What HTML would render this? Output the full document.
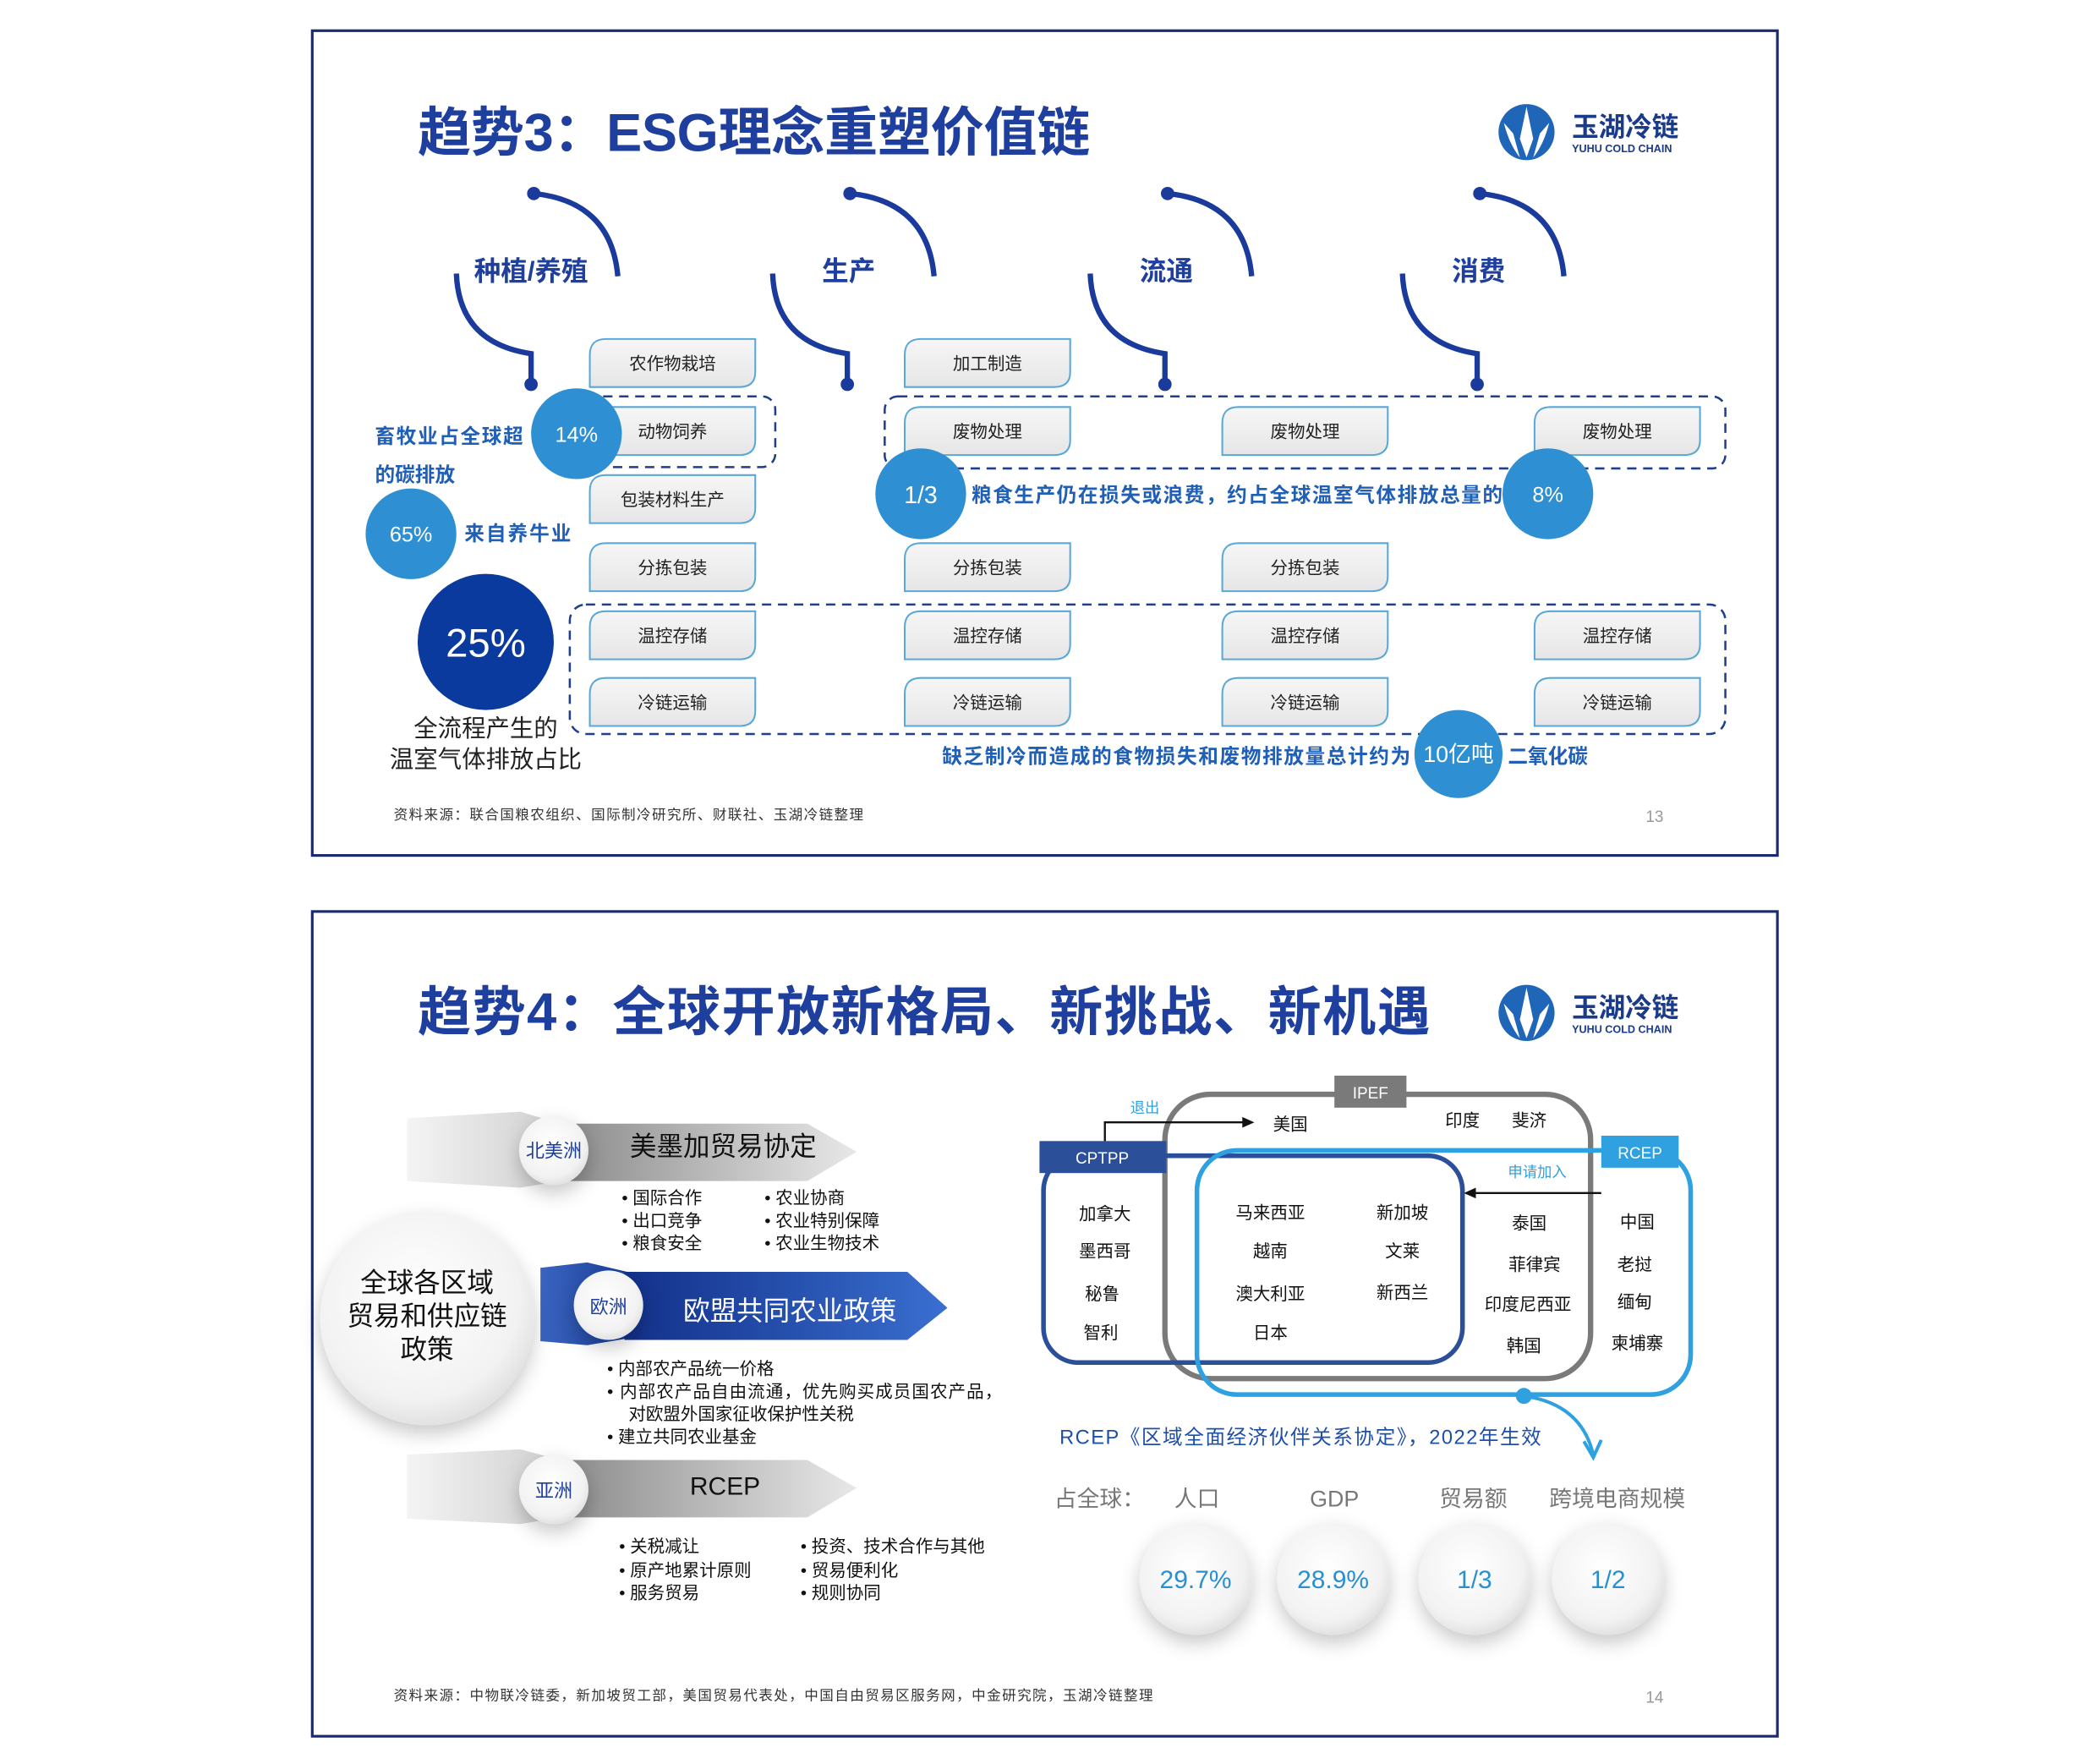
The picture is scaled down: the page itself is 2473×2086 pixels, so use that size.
<!DOCTYPE html>
<html><head><meta charset="utf-8"><style>
html,body{margin:0;padding:0;background:#fff;}
svg{display:block;}
text{font-family:"Liberation Sans","Noto Sans CJK SC",sans-serif;}
</style></head><body>
<svg width="2473" height="2086" viewBox="0 0 1567 1321.8" xmlns="http://www.w3.org/2000/svg">
<defs>
<linearGradient id="bx" x1="0" y1="0" x2="0" y2="1"><stop offset="0" stop-color="#f6f6f6"/><stop offset="1" stop-color="#e6e6e6"/></linearGradient>
<path id="box" d="M12,0 H124 V25 Q124,36 112,36 H0 V12 Q0,0 12,0 Z" fill="url(#bx)" stroke="#5aa8d8" stroke-width="1.3"/>
<linearGradient id="gb" x1="0" y1="0" x2="1" y2="0"><stop offset="0" stop-color="#8a8a8a"/><stop offset="1" stop-color="#e8e8e8"/></linearGradient>
<linearGradient id="gbk" x1="0" y1="0" x2="1" y2="0"><stop offset="0" stop-color="#f4f4f4"/><stop offset="1" stop-color="#cfcfcf"/></linearGradient>
<linearGradient id="bb" x1="0" y1="0" x2="1" y2="0"><stop offset="0" stop-color="#12308a"/><stop offset="1" stop-color="#3a6fd0"/></linearGradient>
<linearGradient id="bbk" x1="0" y1="0" x2="1" y2="0"><stop offset="0" stop-color="#3a64c0"/><stop offset="1" stop-color="#1a3f9a"/></linearGradient>
<radialGradient id="wc" cx="0.45" cy="0.4" r="0.6"><stop offset="0" stop-color="#ffffff"/><stop offset="0.8" stop-color="#f2f2f2"/><stop offset="1" stop-color="#e2e2e2"/></radialGradient>
<filter id="sh" x="-40%" y="-40%" width="180%" height="180%"><feDropShadow dx="0" dy="6" stdDeviation="7" flood-color="#000" flood-opacity="0.22"/></filter>
<g id="logo">
<circle cx="22" cy="21" r="21" fill="#1f66b8"/>
<path d="M22,2 L17,26 L22,40 L27,26 Z" fill="#fff"/>
<path d="M5,14 Q9,30 17,40 L12,22 Z" fill="#fff"/>
<path d="M39,14 Q35,30 27,40 L32,22 Z" fill="#fff"/>
<text x="56" y="24" font-size="20" font-weight="bold" fill="#1a3a8a">玉湖冷链</text>
<text x="56" y="36" font-size="8" font-weight="bold" fill="#1a3a8a">YUHU COLD CHAIN</text>
</g>
<g id="stage">
<path d="M0,0 Q58,6 63,62" fill="none" stroke="#1a3a9c" stroke-width="4"/>
<circle cx="0" cy="0" r="5" fill="#1a3a9c"/>
<path d="M-58,60 Q-56,112 -2,120 V143" fill="none" stroke="#1a3a9c" stroke-width="4"/>
<circle cx="-2" cy="143" r="5" fill="#1a3a9c"/>
</g>
</defs>

<!-- SLIDE 1 -->
<rect x="234" y="23" width="1098" height="618" fill="#fff" stroke="#1a2a6c" stroke-width="2"/>
<text x="313" y="113" font-size="40" font-weight="bold" fill="#1e3f9e" textLength="504">趋势3：ESG理念重塑价值链</text>
<use href="#logo" x="1122" y="78"/>

<use href="#stage" x="400" y="145"/>
<use href="#stage" x="637" y="145"/>
<use href="#stage" x="875" y="145"/>
<use href="#stage" x="1109" y="145"/>
<g font-size="20" font-weight="bold" fill="#1e3f9e" text-anchor="middle">
<text x="398" y="210">种植/养殖</text><text x="636" y="210">生产</text><text x="874" y="210">流通</text><text x="1108" y="210">消费</text>
</g>

<g fill="none" stroke="#1e3f8a" stroke-width="1.6" stroke-dasharray="7,5">
<rect x="430" y="297" width="151" height="53" rx="10"/>
<rect x="663" y="297" width="630" height="54" rx="10"/>
<rect x="427" y="453" width="866" height="97" rx="12"/>
</g>

<g font-size="13" fill="#222" text-anchor="middle">
<use href="#box" x="442" y="254"/><text x="504" y="277">农作物栽培</text>
<use href="#box" x="442" y="305"/><text x="504" y="328">动物饲养</text>
<use href="#box" x="442" y="356"/><text x="504" y="379">包装材料生产</text>
<use href="#box" x="442" y="407"/><text x="504" y="430">分拣包装</text>
<use href="#box" x="442" y="458"/><text x="504" y="481">温控存储</text>
<use href="#box" x="442" y="508"/><text x="504" y="531">冷链运输</text>

<use href="#box" x="678" y="254"/><text x="740" y="277">加工制造</text>
<use href="#box" x="678" y="305"/><text x="740" y="328">废物处理</text>
<use href="#box" x="678" y="407"/><text x="740" y="430">分拣包装</text>
<use href="#box" x="678" y="458"/><text x="740" y="481">温控存储</text>
<use href="#box" x="678" y="508"/><text x="740" y="531">冷链运输</text>

<use href="#box" x="916" y="305"/><text x="978" y="328">废物处理</text>
<use href="#box" x="916" y="407"/><text x="978" y="430">分拣包装</text>
<use href="#box" x="916" y="458"/><text x="978" y="481">温控存储</text>
<use href="#box" x="916" y="508"/><text x="978" y="531">冷链运输</text>

<use href="#box" x="1150" y="305"/><text x="1212" y="328">废物处理</text>
<use href="#box" x="1150" y="458"/><text x="1212" y="481">温控存储</text>
<use href="#box" x="1150" y="508"/><text x="1212" y="531">冷链运输</text>
</g>

<g fill="#2e90d2">
<circle cx="432" cy="325" r="34"/><circle cx="308" cy="400" r="34"/>
<circle cx="690" cy="370" r="34"/><circle cx="1160" cy="370" r="34"/><circle cx="1093" cy="565" r="33"/>
</g>
<circle cx="364" cy="481" r="51" fill="#0b3a9e"/>
<g fill="#fff" text-anchor="middle">
<text x="432" y="331" font-size="16">14%</text>
<text x="308" y="406" font-size="16">65%</text>
<text x="690" y="377" font-size="18">1/3</text>
<text x="1160" y="376" font-size="16">8%</text>
<text x="1093" y="571" font-size="17">10亿吨</text>
<text x="364" y="492" font-size="30">25%</text>
</g>
<g fill="#1f5fb5" font-size="15" font-weight="bold">
<text x="281" y="332" textLength="111">畜牧业占全球超</text>
<text x="281" y="361">的碳排放</text>
<text x="348" y="405" textLength="80">来自养牛业</text>
<text x="728" y="376" textLength="398">粮食生产仍在损失或浪费，约占全球温室气体排放总量的</text>
<text x="706" y="572" textLength="351">缺乏制冷而造成的食物损失和废物排放量总计约为</text>
<text x="1130" y="572">二氧化碳</text>
</g>
<g fill="#222" font-size="18" text-anchor="middle">
<text x="364" y="552">全流程产生的</text>
<text x="364" y="575">温室气体排放占比</text>
</g>
<text x="295" y="614" font-size="10.5" fill="#333" textLength="352">资料来源：联合国粮农组织、国际制冷研究所、财联社、玉湖冷链整理</text>
<text x="1240" y="616" font-size="12" fill="#999" text-anchor="middle">13</text>

<!-- SLIDE 2 -->
<rect x="234" y="683" width="1098" height="618" fill="#fff" stroke="#1a2a6c" stroke-width="2"/>
<text x="313" y="772" font-size="40" font-weight="bold" fill="#1e3f9e" textLength="759">趋势4：全球开放新格局、新挑战、新机遇</text>
<use href="#logo" x="1122" y="738"/>

<!-- banners -->
<path d="M305,838 L390,833 L420,842 L420,885 L390,890 L305,885 Z" fill="url(#gbk)"/>
<path d="M418,842 L605,842 L642,863 L605,885 L418,885 Z" fill="url(#gb)"/>
<path d="M405,950 L440,946 L470,953 L470,1003 L440,1008 L405,1005 Z" fill="url(#bbk)"/>
<path d="M468,953 L680,953 L710,980 L680,1004 L468,1004 Z" fill="url(#bb)"/>
<path d="M305,1090 L390,1086 L420,1094 L420,1137 L390,1142 L305,1138 Z" fill="url(#gbk)"/>
<path d="M418,1094 L605,1094 L642,1115 L605,1137 L418,1137 Z" fill="url(#gb)"/>

<circle cx="320" cy="988" r="80" fill="url(#wc)" filter="url(#sh)"/>
<g font-size="20" fill="#111" text-anchor="middle">
<text x="320" y="968">全球各区域</text><text x="320" y="993">贸易和供应链</text><text x="320" y="1018">政策</text>
</g>
<circle cx="415" cy="862" r="26" fill="url(#wc)" filter="url(#sh)"/>
<circle cx="456" cy="978" r="26" fill="url(#wc)" filter="url(#sh)"/>
<circle cx="415" cy="1116" r="26" fill="url(#wc)" filter="url(#sh)"/>
<g font-size="14" fill="#1e3f9e" text-anchor="middle">
<text x="415" y="867">北美洲</text><text x="456" y="984">欧洲</text><text x="415" y="1122">亚洲</text>
</g>
<text x="472" y="866" font-size="20" fill="#111">美墨加贸易协定</text>
<text x="512" y="989" font-size="20" fill="#fff">欧盟共同农业政策</text>
<text x="517" y="1120" font-size="19" fill="#111">RCEP</text>

<g font-size="13" fill="#111">
<text x="466" y="902">•  国际合作</text><text x="466" y="919">•  出口竞争</text><text x="466" y="936">•  粮食安全</text>
<text x="573" y="902">•  农业协商</text><text x="573" y="919">•  农业特别保障</text><text x="573" y="936">•  农业生物技术</text>
<text x="455" y="1030">•  内部农产品统一价格</text>
<text x="455" y="1047" textLength="296">•  内部农产品自由流通，优先购买成员国农产品，</text>
<text x="471" y="1064">对欧盟外国家征收保护性关税</text>
<text x="455" y="1081">•  建立共同农业基金</text>
<text x="464" y="1163">•  关税减让</text><text x="464" y="1181">•  原产地累计原则</text><text x="464" y="1198">•  服务贸易</text>
<text x="600" y="1163">•  投资、技术合作与其他</text><text x="600" y="1181">•  贸易便利化</text><text x="600" y="1198">•  规则协同</text>
</g>

<!-- venn -->
<rect x="873" y="820" width="319" height="213" rx="34" fill="none" stroke="#7a7a7a" stroke-width="4"/>
<rect x="782" y="866" width="314" height="155" rx="26" fill="none" stroke="#2c4f9a" stroke-width="3.5"/>
<rect x="897" y="862" width="370" height="183" rx="30" fill="none" stroke="#2fa0e0" stroke-width="3.5"/>
<rect x="1000" y="806" width="54" height="24" fill="#7a7a7a"/>
<text x="1027" y="823" font-size="12" fill="#fff" text-anchor="middle">IPEF</text>
<rect x="779" y="855" width="95" height="24" fill="#2c4f9a"/>
<text x="826" y="872" font-size="12" fill="#fff" text-anchor="middle">CPTPP</text>
<rect x="1200" y="851" width="58" height="24" fill="#2fa0e0"/>
<text x="1229" y="868" font-size="12" fill="#fff" text-anchor="middle">RCEP</text>
<text x="858" y="834" font-size="11" fill="#2fa0e0" text-anchor="middle">退出</text>
<path d="M828,855 V841 H933" fill="none" stroke="#111" stroke-width="1.5"/>
<path d="M940,841 L931,837 L931,845 Z" fill="#111"/>
<text x="1152" y="882" font-size="11" fill="#2fa0e0" text-anchor="middle">申请加入</text>
<path d="M1200,894 H1104" fill="none" stroke="#111" stroke-width="1.5"/>
<path d="M1097,894 L1106,890 L1106,898 Z" fill="#111"/>
<g font-size="13" fill="#111" text-anchor="middle">
<text x="967" y="847">美国</text><text x="1096" y="844">印度</text><text x="1146" y="844">斐济</text>
<text x="828" y="914">加拿大</text><text x="828" y="942">墨西哥</text><text x="826" y="974">秘鲁</text><text x="825" y="1003">智利</text>
<text x="952" y="913">马来西亚</text><text x="952" y="942">越南</text><text x="952" y="974">澳大利亚</text><text x="952" y="1003">日本</text>
<text x="1051" y="913">新加坡</text><text x="1051" y="942">文莱</text><text x="1051" y="973">新西兰</text>
<text x="1146" y="921">泰国</text><text x="1150" y="952">菲律宾</text><text x="1145" y="982">印度尼西亚</text><text x="1142" y="1013">韩国</text>
<text x="1227" y="920">中国</text><text x="1225" y="952">老挝</text><text x="1225" y="980">缅甸</text><text x="1227" y="1011">柬埔寨</text>
</g>
<circle cx="1142" cy="1046" r="6" fill="#2fa0e0"/>
<path d="M1142,1046 Q1185,1052 1194,1090" fill="none" stroke="#2fa0e0" stroke-width="2.5"/>
<path d="M1187,1080 L1194,1092 L1200,1079" fill="none" stroke="#2fa0e0" stroke-width="2.5"/>
<text x="794" y="1082" font-size="15" fill="#1e4fa8" textLength="361">RCEP《区域全面经济伙伴关系协定》，2022年生效</text>

<g font-size="17" fill="#777">
<text x="790" y="1129">占全球：</text>
<text x="897" y="1129" text-anchor="middle">人口</text>
<text x="1000" y="1129" text-anchor="middle">GDP</text>
<text x="1104" y="1129" text-anchor="middle">贸易额</text>
<text x="1212" y="1129" text-anchor="middle">跨境电商规模</text>
</g>
<g filter="url(#sh)">
<circle cx="896" cy="1183" r="42" fill="url(#wc)"/><circle cx="999" cy="1183" r="42" fill="url(#wc)"/>
<circle cx="1105" cy="1183" r="42" fill="url(#wc)"/><circle cx="1205" cy="1183" r="42" fill="url(#wc)"/>
</g>
<g font-size="19" fill="#2a8fd0" text-anchor="middle">
<text x="896" y="1190">29.7%</text><text x="999" y="1190">28.9%</text><text x="1105" y="1190">1/3</text><text x="1205" y="1190">1/2</text>
</g>
<text x="295" y="1274" font-size="10.5" fill="#333" textLength="569">资料来源：中物联冷链委，新加坡贸工部，美国贸易代表处，中国自由贸易区服务网，中金研究院，玉湖冷链整理</text>
<text x="1240" y="1276" font-size="12" fill="#999" text-anchor="middle">14</text>
</svg>
</body></html>
